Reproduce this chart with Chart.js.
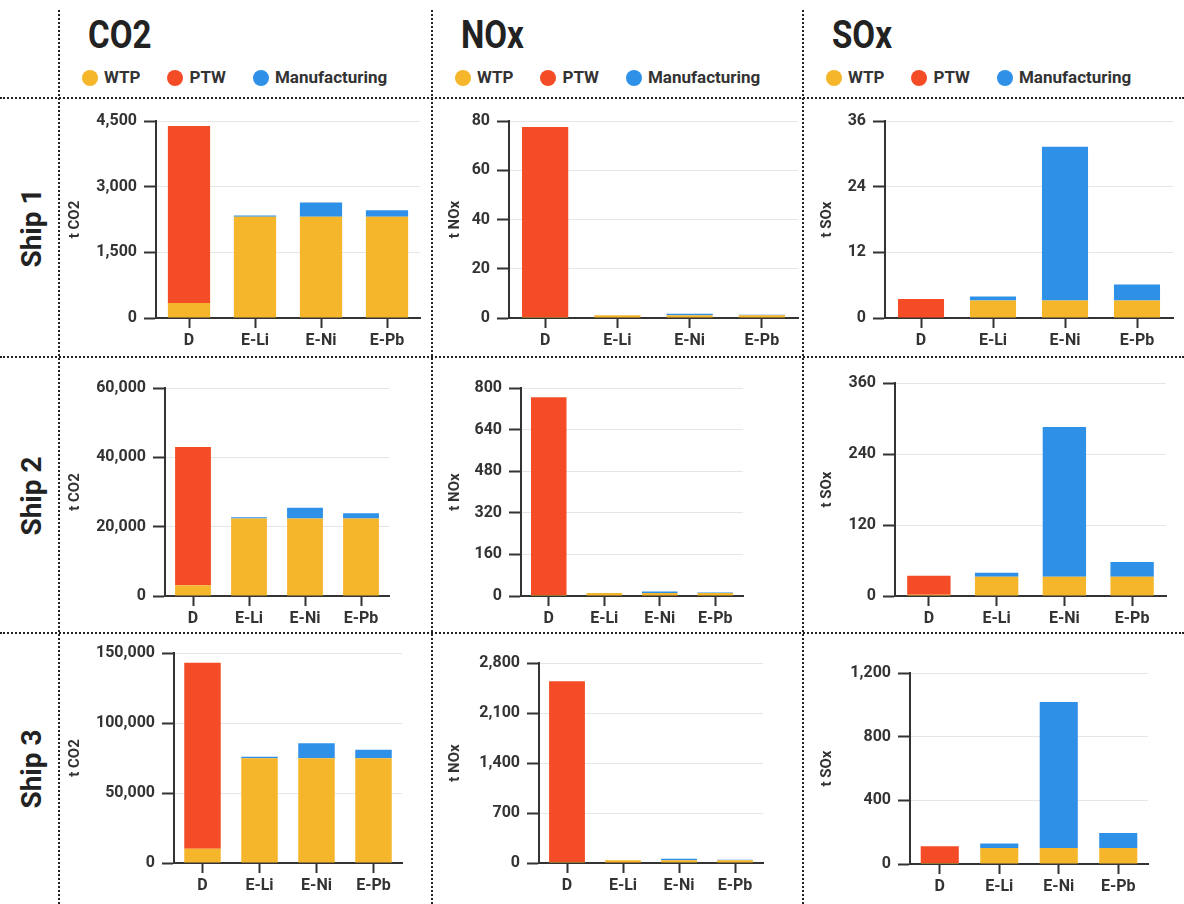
<!DOCTYPE html>
<html>
<head>
<meta charset="utf-8">
<script src="https://cdn.jsdelivr.net/npm/chart.js@4.4.1/dist/chart.umd.min.js"></script>
<style>
  html, body { margin: 0; padding: 0; background: #fff; }
  body { width: 1184px; height: 904px; position: relative; overflow: hidden;
         font-family: Roboto, sans-serif; font-weight: 700; color: #222; }
  .vline { position: absolute; top: 10px; bottom: 0; width: 0; border-left: 2px dotted #222; }
  .hline { position: absolute; left: 0; right: 0; height: 0; border-top: 2px dotted #222; }
  .head { position: absolute; top: 16px; font-size: 38px; line-height: 1;
          transform: scaleX(0.87); transform-origin: left top; }
  .legend { position: absolute; top: 69px; height: 17px; display: flex; align-items: center;
            gap: 27px; font-size: 17px; line-height: 1; color: #333; white-space: nowrap; }
  .legend span { display: flex; align-items: center; }
  .legend i { display: block; width: 16px; height: 16px; border-radius: 50%; margin-right: 6px; }
  .ship { position: absolute; left: 32px; font-size: 28px; line-height: 1; white-space: nowrap;
          transform: translate(-50%, -50%) rotate(-90deg); }
  canvas { position: absolute; }
</style>
</head>
<body>
<script>
const categories = ['D', 'E-Li', 'E-Ni', 'E-Pb'];
const ships = ['Ship 1', 'Ship 2', 'Ship 3'];
const pollutants = ['CO2', 'NOx', 'SOx'];
const axisTitles = ['t CO2', 't NOx', 't SOx'];
const seriesNames = ['WTP', 'PTW', 'Manufacturing'];
const seriesColors = ['#f6b62b', '#f44c26', '#2f90e8'];

// tonnes, one row per ship, columns follow categories
const co2Wtp = [[340, 2310, 2310, 2310], [3100, 22340, 22340, 22340], [10240, 74760, 74760, 74760]];
const co2Ptw = [[4045, 0, 0, 0], [39850, 0, 0, 0], [132860, 0, 0, 0]];
const co2Mfg = [[0, 30, 330, 150], [0, 390, 3090, 1540], [0, 1190, 10700, 6200]];

const noxWtp = [[0.4, 1.1, 1.1, 1.1], [4, 11.5, 11.5, 11.5], [13, 38, 38, 38]];
const noxPtw = [[77.2, 0, 0, 0], [760, 0, 0, 0], [2530, 0, 0, 0]];
const noxMfg = [[0, 0.05, 0.6, 0.2], [0, 0.5, 6, 2], [0, 1.5, 20, 6]];

const soxWtp = [[0.1, 3.2, 3.2, 3.2], [2, 32.5, 32.5, 32.5], [6, 100, 100, 100]];
const soxPtw = [[3.35, 0, 0, 0], [32.3, 0, 0, 0], [105, 0, 0, 0]];
const soxMfg = [[0, 0.75, 28.1, 2.9], [0, 7, 253, 25], [0, 29, 918, 94]];

// y tick labels, one row per ship
const co2Ticks = [[0, 1500, 3000, 4500], [0, 20000, 40000, 60000], [0, 50000, 100000, 150000]];
const noxTicks = [[0, 20, 40, 60, 80], [0, 160, 320, 480, 640, 800], [0, 700, 1400, 2100, 2800]];
const soxTicks = [[0, 12, 24, 36], [0, 120, 240, 360], [0, 400, 800, 1200]];

const series = [[co2Wtp, co2Ptw, co2Mfg], [noxWtp, noxPtw, noxMfg], [soxWtp, soxPtw, soxMfg]];
const tickSets = [co2Ticks, noxTicks, soxTicks];

// page layout
const colLines = [59, 432, 803];
const rowLines = [98, 357, 633];
const shipCenters = [228, 496, 769];
const titleX = [76, 456, 828];
const padTop = 22;
// plot area per ship / pollutant: [axis x, top y, zero y, right x]
const plotBoxes = [
  [[156, 121, 318, 420], [509, 121, 318, 798], [885, 121, 318, 1173]],
  [[165, 388, 596, 389], [521, 388, 596, 743], [895, 383, 596, 1166]],
  [[174, 653, 863, 402], [539, 663, 863, 763], [910, 673, 864, 1148]]
];

function add(tag, cls, css, html) {
  const el = document.createElement(tag);
  if (cls) el.className = cls;
  Object.assign(el.style, css);
  if (html) el.innerHTML = html;
  document.body.appendChild(el);
  return el;
}

colLines.forEach(x => add('div', 'vline', { left: (x - 1) + 'px' }));
rowLines.forEach(y => add('div', 'hline', { top: (y - 1) + 'px' }));

pollutants.forEach((p, i) => {
  add('div', 'head', { left: (colLines[i] + 29) + 'px' }, p);
  const items = seriesNames.map((n, k) =>
    '<span><i style="background:' + seriesColors[k] + '"></i>' + n + '</span>').join('');
  add('div', 'legend', { left: (colLines[i] + 23) + 'px' }, items);
});

ships.forEach((s, i) => add('div', 'ship', { top: shipCenters[i] + 'px' }, s));

Chart.defaults.font.family = 'Roboto';
Chart.defaults.color = '#333';

const tickFont = { family: 'Roboto', size: 16, weight: 'bold' };

function makeChart(si, pi) {
  const [ax, ty, by, rx] = plotBoxes[si][pi];
  const left = titleX[pi] - 8;
  const top = ty - padTop;
  const w = rx - left + 4;
  const h = by - top + 40;
  const cv = add('canvas', null, { left: left + 'px', top: top + 'px', width: w + 'px', height: h + 'px' });
  cv.width = w;
  cv.height = h;
  const ticks = tickSets[pi][si];

  new Chart(cv, {
    type: 'bar',
    data: {
      labels: categories,
      datasets: seriesNames.map((n, k) => ({
        label: n,
        data: series[pi][k][si],
        backgroundColor: seriesColors[k],
        barPercentage: 0.64,
        categoryPercentage: 1
      }))
    },
    options: {
      responsive: false,
      animation: false,
      layout: { padding: { top: padTop, right: 4, left: 0, bottom: 0 } },
      plugins: { legend: { display: false }, tooltip: { enabled: false } },
      scales: {
        x: {
          stacked: true,
          grid: { drawOnChartArea: false, drawTicks: true, offset: false,
                  tickLength: 10, tickColor: '#333', tickWidth: 2 },
          border: { display: true, color: '#333', width: 2 },
          ticks: { font: tickFont, color: '#333', padding: 3 },
          afterFit: s => { s.height = 40; }
        },
        y: {
          stacked: true,
          min: 0,
          max: ticks[ticks.length - 1],
          afterBuildTicks: s => { s.ticks = ticks.map(v => ({ value: v })); },
          afterFit: s => { s.width = ax - left; },
          grid: {
            color: c => (c.tick && c.tick.value === 0 ? 'rgba(0,0,0,0)' : '#e6e6e6'),
            lineWidth: 1, drawTicks: true, tickLength: 12, tickColor: '#333', tickWidth: 2
          },
          border: { display: true, color: '#333', width: 2 },
          ticks: { font: tickFont, color: '#333', padding: 7,
                   callback: v => Number(v).toLocaleString('en-US') },
          title: { display: true, text: axisTitles[pi], color: '#333', padding: 0,
                   font: { family: 'Roboto', size: 15, weight: 'bold', lineHeight: 1 } }
        }
      }
    }
  });
}

ships.forEach((s, si) => pollutants.forEach((p, pi) => makeChart(si, pi)));
</script>
</body>
</html>
